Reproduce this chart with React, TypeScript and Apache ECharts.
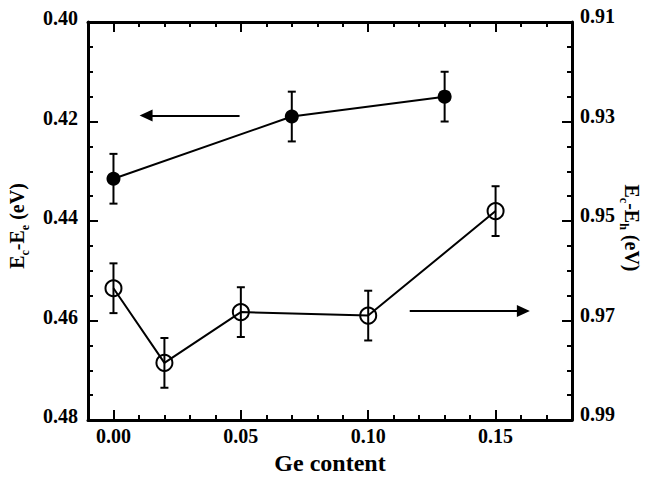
import React, { useEffect, useRef } from "react";
import * as echarts from "echarts";

// ---- data ----
const X_FILLED = [0.0, 0.07, 0.13];
const Y_FILLED = [0.4315, 0.419, 0.415]; // Ec-Ee (eV), left axis
const ERR_FILLED = [0.005, 0.005, 0.005];

const X_OPEN = [0.0, 0.02, 0.05, 0.1, 0.15];
const Y_OPEN = [0.9635, 0.9785, 0.9683, 0.969, 0.948]; // Ec-Eh (eV), right axis
const ERR_OPEN = [0.005, 0.005, 0.005, 0.005, 0.005];

const X_RANGE = [-0.01, 0.18];
const LEFT_RANGE = [0.4, 0.48];
const RIGHT_RANGE = [0.91, 0.99];

// arrows (data coordinates): [start, tip]
const ARROW_LEFT = [[0.0495, 0.4188], [0.0128, 0.4188]];
const ARROW_RIGHT = [[0.1163, 0.9681], [0.1609, 0.9681]];

const FONT = "'Liberation Serif', 'Times New Roman', Times, serif";

const xLabel = (v: number) => {
  const k = v * 20;
  if (Math.abs(k - Math.round(k)) > 1e-6) return "";
  return v.toFixed(2);
};

function errorSeries(xs: number[], ys: number[], es: number[], yAxisIndex: number) {
  return {
    type: "custom",
    xAxisIndex: 0,
    yAxisIndex,
    silent: true,
    z: 3,
    data: xs.map((x, i) => [x, ys[i], es[i]]),
    encode: { x: 0, y: 1 },
    renderItem: (params: any, api: any) => {
      const x = api.value(0);
      const y = api.value(1);
      const e = api.value(2);
      const p1 = api.coord([x, y - e]);
      const p2 = api.coord([x, y + e]);
      const hw = 4;
      const st = { stroke: "#000", lineWidth: 2 };
      return {
        type: "group",
        children: [
          { type: "line", shape: { x1: p1[0], y1: p1[1], x2: p2[0], y2: p2[1] }, style: st },
          { type: "line", shape: { x1: p1[0] - hw, y1: p1[1], x2: p1[0] + hw, y2: p1[1] }, style: st },
          { type: "line", shape: { x1: p2[0] - hw, y1: p2[1], x2: p2[0] + hw, y2: p2[1] }, style: st },
        ],
      };
    },
  };
}

export default function App() {
  const ref = useRef<HTMLDivElement>(null);

  useEffect(() => {
    if (!ref.current) return;
    const chart = echarts.init(ref.current, undefined, { renderer: "svg" });

    const axisCommon = {
      axisLine: { show: true, onZero: false, lineStyle: { color: "#000", width: 3 } },
      axisTick: { show: true, inside: true, length: 10, lineStyle: { color: "#000", width: 2 } },
      minorTick: { show: true, length: 5, lineStyle: { color: "#000", width: 2 } },
      splitLine: { show: false },
      minorSplitLine: { show: false },
    };

    const labelStyle = {
      color: "#000",
      fontFamily: FONT,
      fontWeight: "bold" as const,
      fontSize: 20,
    };

    const rich = {
      n: { fontFamily: FONT, fontWeight: "bold", fontSize: 20, lineHeight: 20, verticalAlign: "top", fill: "#000", color: "#000" },
      s: { fontFamily: FONT, fontWeight: "bold", fontSize: 12, lineHeight: 12, verticalAlign: "top", padding: [12, 0, 0, 0], fill: "#000", color: "#000" },
    };

    const option: any = {
      animation: false,
      backgroundColor: "#fff",
      grid: { left: 88, right: 79, top: 22, bottom: 53, show: false, containLabel: false },
      xAxis: [
        {
          type: "value",
          position: "bottom",
          min: X_RANGE[0],
          max: X_RANGE[1],
          splitNumber: 4,
          ...axisCommon,
          minorTick: { ...axisCommon.minorTick, splitNumber: 5 },
          axisLabel: { ...labelStyle, margin: 6, formatter: xLabel },
          name: "Ge content",
          nameLocation: "middle",
          nameGap: 27,
          nameTextStyle: { color: "#000", fontFamily: FONT, fontWeight: "bold", fontSize: 24 },
        },
        {
          type: "value",
          position: "top",
          min: X_RANGE[0],
          max: X_RANGE[1],
          splitNumber: 4,
          ...axisCommon,
          minorTick: { ...axisCommon.minorTick, splitNumber: 5 },
          axisLabel: { show: false },
        },
      ],
      yAxis: [
        {
          type: "value",
          position: "left",
          inverse: true,
          min: LEFT_RANGE[0],
          max: LEFT_RANGE[1],
          interval: 0.02,
          ...axisCommon,
          minorTick: { ...axisCommon.minorTick, splitNumber: 4 },
          axisLabel: {
            ...labelStyle,
            margin: 10,
            verticalAlign: "bottom",
            lineHeight: 8,
            formatter: (v: number) => v.toFixed(2),
          },
        },
        {
          type: "value",
          position: "right",
          inverse: true,
          min: RIGHT_RANGE[0],
          max: RIGHT_RANGE[1],
          interval: 0.02,
          ...axisCommon,
          minorTick: { ...axisCommon.minorTick, splitNumber: 4 },
          axisLabel: {
            ...labelStyle,
            margin: 8,
            verticalAlign: "bottom",
            lineHeight: 12,
            formatter: (v: number) => v.toFixed(2),
          },
        },
      ],
      graphic: [
        {
          type: "text",
          x: 17,
          y: 226,
          rotation: Math.PI / 2,
          style: {
            text: "{n|E}{s|c}{n|-E}{s|e}{n| (eV)}",
            rich,
            align: "center",
            verticalAlign: "middle",
            fill: "#000",
          },
        },
        {
          type: "text",
          x: 632,
          y: 228,
          rotation: -Math.PI / 2,
          style: {
            text: "{n|E}{s|c}{n|-E}{s|h}{n| (eV)}",
            rich,
            align: "center",
            verticalAlign: "middle",
            fill: "#000",
          },
        },
      ],
      series: [
        {
          type: "line",
          xAxisIndex: 0,
          yAxisIndex: 0,
          data: X_FILLED.map((x, i) => [x, Y_FILLED[i]]),
          symbol: "circle",
          symbolSize: 14,
          itemStyle: { color: "#000" },
          lineStyle: { color: "#000", width: 2 },
          z: 4,
          markLine: {
            silent: true,
            symbol: ["none", "triangle"],
            symbolSize: [12, 13],
            label: { show: false },
            lineStyle: { color: "#000", width: 2, type: "solid" },
            data: [[{ coord: ARROW_LEFT[0] }, { coord: ARROW_LEFT[1] }]],
          },
        },
        {
          type: "line",
          xAxisIndex: 0,
          yAxisIndex: 1,
          data: X_OPEN.map((x, i) => [x, Y_OPEN[i]]),
          symbol: "circle",
          symbolSize: 16,
          itemStyle: { color: "rgba(0,0,0,0)", borderColor: "#000", borderWidth: 2 },
          lineStyle: { color: "#000", width: 2 },
          z: 4,
          markLine: {
            silent: true,
            symbol: ["none", "triangle"],
            symbolSize: [12, 13],
            label: { show: false },
            lineStyle: { color: "#000", width: 2, type: "solid" },
            data: [[{ coord: ARROW_RIGHT[0] }, { coord: ARROW_RIGHT[1] }]],
          },
        },
        errorSeries(X_FILLED, Y_FILLED, ERR_FILLED, 0),
        errorSeries(X_OPEN, Y_OPEN, ERR_OPEN, 1),
      ],
    };

    chart.setOption(option);
    return () => chart.dispose();
  }, []);

  return (
    <div
      ref={ref}
      style={{ width: 651, height: 480, position: "absolute", left: 0, top: 0, background: "#fff" }}
    />
  );
}
